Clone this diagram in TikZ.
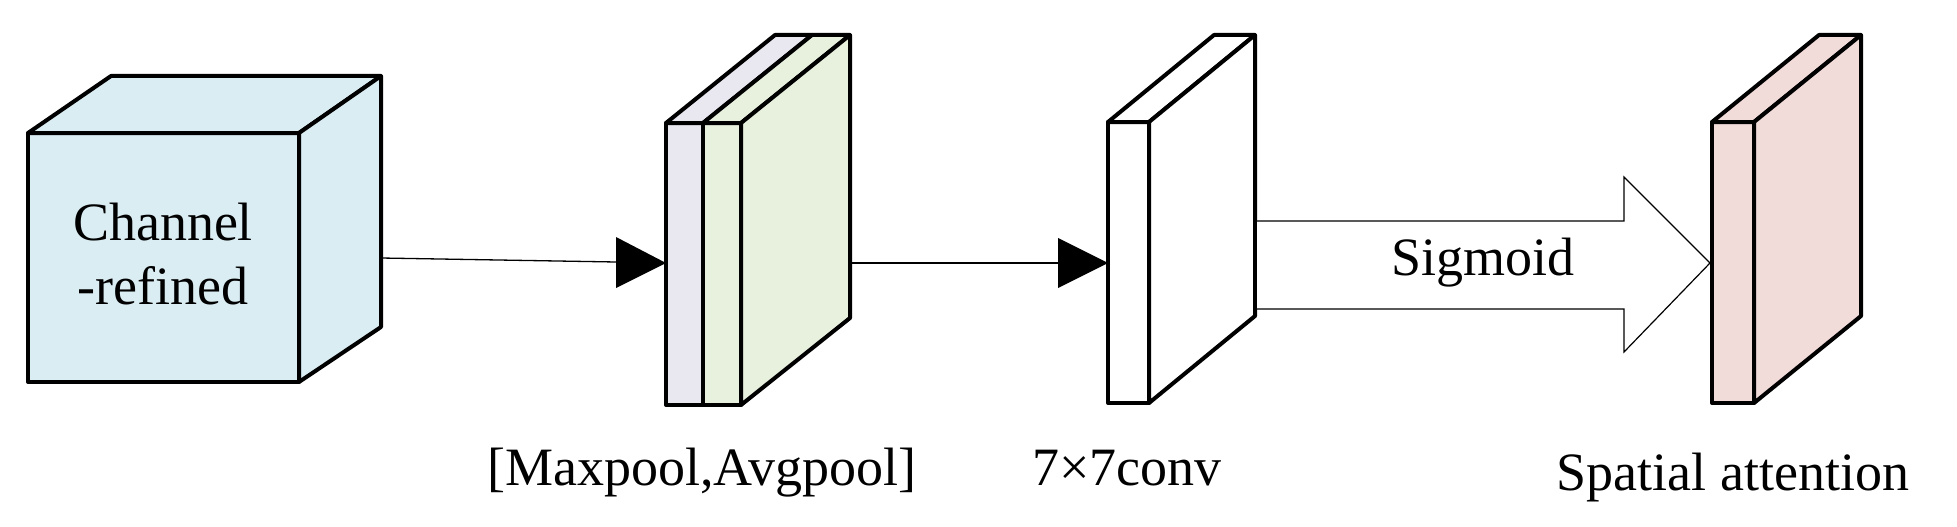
\documentclass[tikz,border=0pt]{standalone}
\usepackage{fontspec}
\setmainfont{Liberation Serif}
\begin{document}
\begin{tikzpicture}[x=1pt,y=-1pt,
  edge/.style={draw=black,line width=4pt,line join=round},
  lbl/.style={font=\fontsize{54}{64}\selectfont,inner sep=0pt},
  conn/.style={line width=1.3pt},
  tri/.style={fill=black,draw=none}]
\useasboundingbox (0,0) rectangle (1957,527);
\definecolor{cubec}{HTML}{DAEDF3}
\definecolor{lav}{HTML}{E9E8F1}
\definecolor{grn}{HTML}{E8F0DE}
\definecolor{pnk}{HTML}{F2DCDA}
% slab macro-ish drawing: front (x1,x2,y1,y2), offset (dx,dy)
% cube
\filldraw[edge,fill=cubec] (28,133) rectangle (299,382);
\filldraw[edge,fill=cubec] (28,133) -- (111,76) -- (381,76) -- (299,133) -- cycle;
\filldraw[edge,fill=cubec] (299,133) -- (381,76) -- (381,327) -- (299,382) -- cycle;
\node[lbl,align=center] (cube) at (163,254) {Channel\\-refined};
\coordinate (cubeR) at (381,258);
% stack slab 1 (lavender)
\filldraw[edge,fill=lav] (666,123) rectangle (703,405);
\filldraw[edge,fill=lav] (666,123) -- (775,35) -- (812,35) -- (703,123) -- cycle;
% slab 2 (green)
\filldraw[edge,fill=grn] (703,123) rectangle (741,405);
\filldraw[edge,fill=grn] (703,123) -- (812,35) -- (850,35) -- (741,123) -- cycle;
\filldraw[edge,fill=grn] (741,123) -- (850,35) -- (850,318) -- (741,405) -- cycle;
\coordinate (stackL) at (666,263);
\coordinate (stackR) at (850,263);
\node[lbl,anchor=base] (l1) at (702,485) {[Maxpool,Avgpool]};
% conv slab
\filldraw[edge,fill=white] (1108,122) rectangle (1149,403);
\filldraw[edge,fill=white] (1108,122) -- (1214,35) -- (1255,35) -- (1149,122) -- cycle;
\filldraw[edge,fill=white] (1149,122) -- (1255,35) -- (1255,316) -- (1149,403) -- cycle;
\coordinate (convL) at (1108,263);
\node[lbl,anchor=base] (l2) at (1127,485) {7×7conv};
% pink slab
\filldraw[edge,fill=pnk] (1712,122) rectangle (1754,403);
\filldraw[edge,fill=pnk] (1712,122) -- (1819,35) -- (1861,35) -- (1754,122) -- cycle;
\filldraw[edge,fill=pnk] (1754,122) -- (1861,35) -- (1861,316) -- (1754,403) -- cycle;
\coordinate (pinkL) at (1710,263);
\node[lbl,anchor=base] (l3) at (1733,490) {Spatial attention};
% arrows
\draw[conn] (cubeR) -- (616,262);
\fill[tri] (616,237) -- (stackL) -- (616,288) -- cycle;
\draw[conn] (stackR) -- (1058,263);
\fill[tri] (1058,238) -- (convL) -- (1058,288) -- cycle;
% big open arrow
\draw[line width=1.2pt,fill=white,line join=miter] (1257,221) -- (1624,221) -- (1624,177) -- (pinkL) -- (1624,352) -- (1624,309) -- (1257,309);
\node[lbl] (sig) at (1483,263) {Sigmoid};
\end{tikzpicture}
\end{document}
